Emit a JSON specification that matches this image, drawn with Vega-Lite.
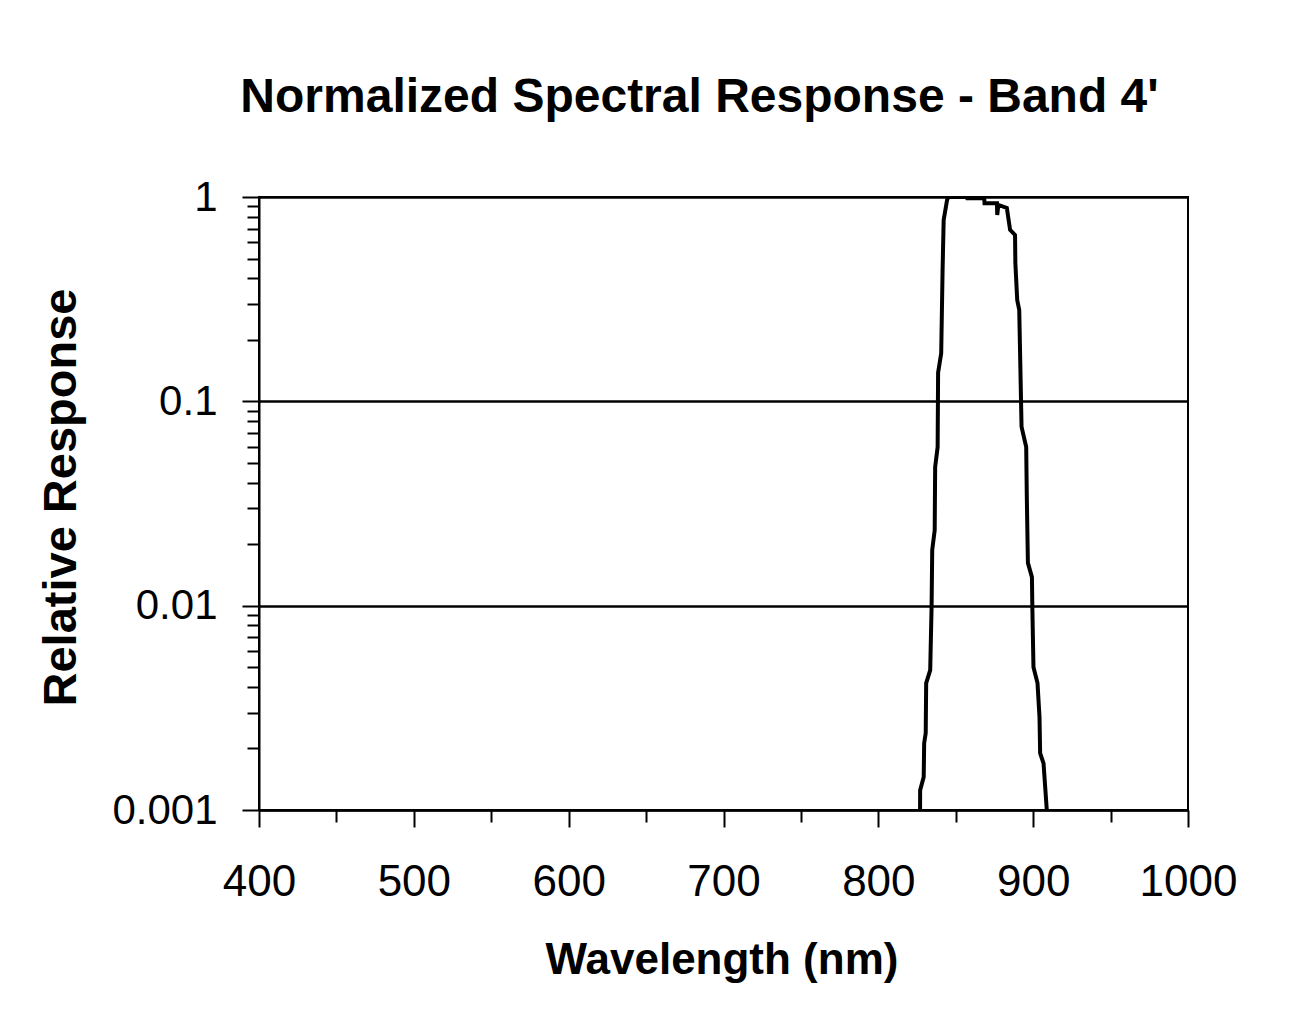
{
  "$schema": "https://vega.github.io/schema/vega-lite/v6.json",
  "width": 929,
  "height": 613,
  "autosize": {"type": "none"},
  "padding": {"left": 259, "top": 197, "right": 103, "bottom": 206},
  "background": "white",
  "title": {
    "text": "Normalized Spectral Response - Band 4'",
    "font": "Liberation Sans",
    "fontSize": 48,
    "fontWeight": "bold",
    "color": "black",
    "frame": "group",
    "anchor": "middle",
    "baseline": "alphabetic",
    "offset": 16,
    "dx": -24
  },
  "data": {
    "values": [
      {"wavelength": 826.9, "response": 0.0008},
      {"wavelength": 827.0, "response": 0.00125},
      {"wavelength": 829.3, "response": 0.00145},
      {"wavelength": 829.6, "response": 0.00212},
      {"wavelength": 830.6, "response": 0.00238},
      {"wavelength": 830.9, "response": 0.00418},
      {"wavelength": 833.5, "response": 0.00484},
      {"wavelength": 834.4, "response": 0.00995},
      {"wavelength": 834.8, "response": 0.0187},
      {"wavelength": 836.4, "response": 0.0234},
      {"wavelength": 836.7, "response": 0.0477},
      {"wavelength": 838.3, "response": 0.0597},
      {"wavelength": 838.6, "response": 0.138},
      {"wavelength": 840.6, "response": 0.172},
      {"wavelength": 841.5, "response": 0.44},
      {"wavelength": 842.2, "response": 0.772},
      {"wavelength": 844.4, "response": 0.967},
      {"wavelength": 845.1, "response": 1.0},
      {"wavelength": 857.3, "response": 1.0},
      {"wavelength": 857.5, "response": 0.985},
      {"wavelength": 868.4, "response": 0.985},
      {"wavelength": 868.6, "response": 0.931},
      {"wavelength": 876.6, "response": 0.931},
      {"wavelength": 876.8, "response": 0.817},
      {"wavelength": 877.5, "response": 0.914},
      {"wavelength": 883.0, "response": 0.884},
      {"wavelength": 885.1, "response": 0.69},
      {"wavelength": 888.3, "response": 0.652},
      {"wavelength": 888.5, "response": 0.475},
      {"wavelength": 889.7, "response": 0.313},
      {"wavelength": 891.0, "response": 0.28},
      {"wavelength": 892.5, "response": 0.075},
      {"wavelength": 895.5, "response": 0.0597},
      {"wavelength": 895.9, "response": 0.034},
      {"wavelength": 896.6, "response": 0.0162},
      {"wavelength": 899.2, "response": 0.0138},
      {"wavelength": 899.5, "response": 0.0095},
      {"wavelength": 900.2, "response": 0.005},
      {"wavelength": 902.8, "response": 0.00418},
      {"wavelength": 904.1, "response": 0.00285},
      {"wavelength": 904.5, "response": 0.0019},
      {"wavelength": 906.7, "response": 0.00169},
      {"wavelength": 908.8, "response": 0.001},
      {"wavelength": 909.2, "response": 0.0008}
    ]
  },
  "mark": {"type": "line", "color": "black", "strokeWidth": 4, "clip": true},
  "encoding": {
    "x": {
      "field": "wavelength",
      "type": "quantitative",
      "scale": {"domain": [400, 1000], "nice": false, "zero": false},
      "axis": {
        "values": [400, 450, 500, 550, 600, 650, 700, 750, 800, 850, 900, 950, 1000],
        "labelExpr": "datum.value % 100 == 0 ? format(datum.value, 'd') : ''",
        "tickSize": {"condition": {"test": "datum.value % 100 == 0", "value": 17}, "value": 12},
        "grid": false,
        "labelFontSize": 44,
        "labelPadding": 68,
        "labelBaseline": "alphabetic",
        "labelFlush": false,
        "labelOverlap": false,
        "title": "Wavelength (nm)",
        "titleFontSize": 44,
        "titleBaseline": "alphabetic",
        "titleY": 163,
        "titleX": 462.5
      }
    },
    "y": {
      "field": "response",
      "type": "quantitative",
      "scale": {"type": "log", "domain": [0.001, 1], "nice": false},
      "axis": {
        "values": [0.001, 0.002, 0.003, 0.004, 0.005, 0.006, 0.007, 0.008, 0.009, 0.01, 0.02, 0.03, 0.04, 0.05, 0.06, 0.07, 0.08, 0.09, 0.1, 0.2, 0.3, 0.4, 0.5, 0.6, 0.7, 0.8, 0.9, 1],
        "labelExpr": "abs(log(datum.value)/LN10 - round(log(datum.value)/LN10)) < 0.000001 ? toString(datum.value) : ''",
        "tickSize": {"condition": {"test": "abs(log(datum.value)/LN10 - round(log(datum.value)/LN10)) < 0.000001", "value": 17}, "value": 12},
        "grid": true,
        "gridColor": "black",
        "gridWidth": 2.5,
        "gridOpacity": {"condition": {"test": "abs(log(datum.value)/LN10 - round(log(datum.value)/LN10)) < 0.000001", "value": 1}, "value": 0},
        "labelFontSize": 42,
        "labelPadding": 25,
        "labelBaseline": "middle",
        "labelFlush": false,
        "labelOverlap": false,
        "title": "Relative Response",
        "titleFontSize": 47,
        "titleAngle": -90,
        "titleBaseline": "alphabetic",
        "titleAlign": "center",
        "titleX": -184,
        "titleY": 300
      }
    }
  },
  "config": {
    "view": {"stroke": "black", "strokeWidth": 2},
    "axis": {
      "labelFont": "Liberation Sans",
      "titleFont": "Liberation Sans",
      "labelColor": "black",
      "titleColor": "black",
      "titleFontWeight": "bold",
      "domainColor": "black",
      "domainWidth": 2,
      "tickColor": "black",
      "tickWidth": 2
    }
  }
}
